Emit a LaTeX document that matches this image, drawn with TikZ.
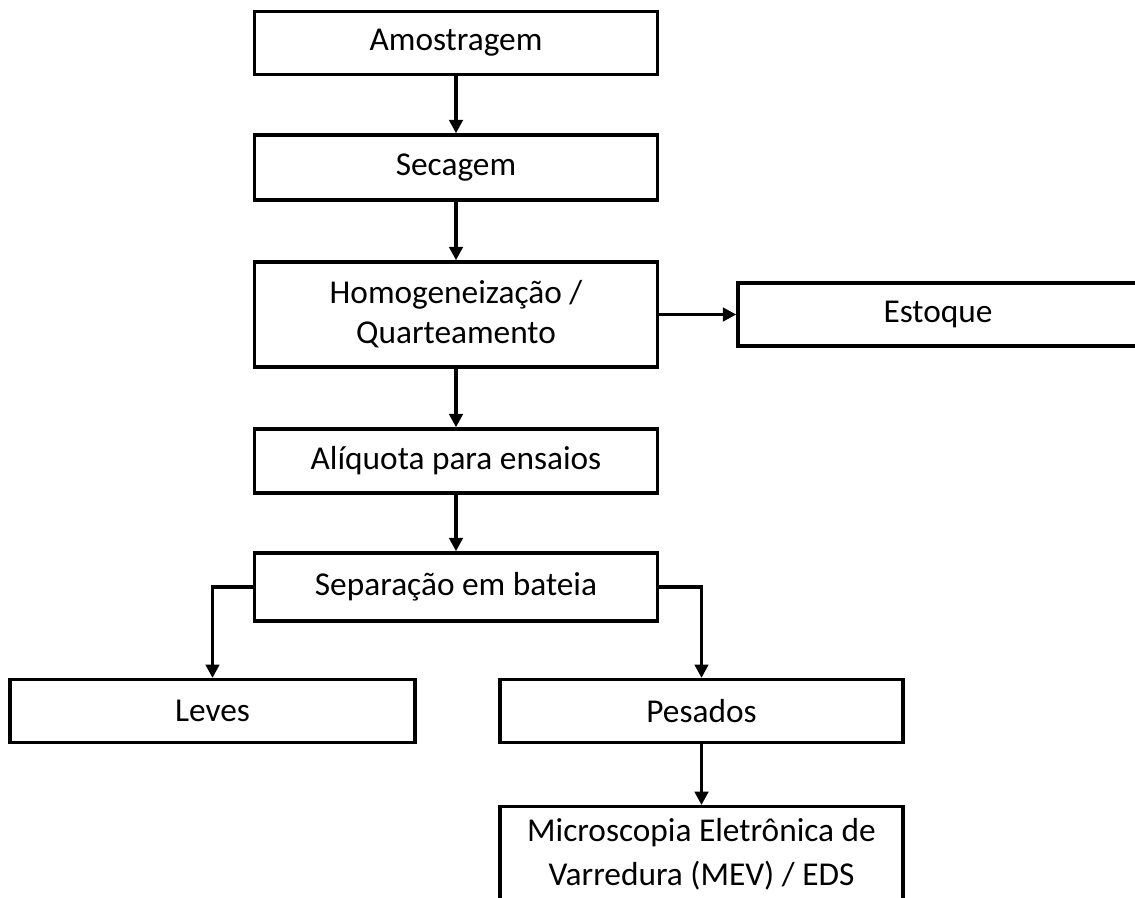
\documentclass[tikz,border=0pt]{standalone}
\usepackage{fontspec}
\setmainfont{Carlito}
\usepackage{xcolor}
\usepackage{tikz}
\usetikzlibrary{arrows, arrows.meta}
\usetikzlibrary{positioning}

\tikzset{
  stepbox/.style={draw=black, line width=2.6pt, fill=white, align=center,
    minimum width=302pt, minimum height=47pt, inner sep=2pt,
    font=\fontsize{25}{30}\selectfont},
  flow/.style={line width=2.6pt, -{Triangle[length=10pt,width=10pt]}}
}

\begin{document}
\begin{tikzpicture}[x=0.75pt, y=-0.75pt]
      \useasboundingbox (0,0) rectangle (1135,897);
      \clip (0,0) rectangle (1135,897);

      \node[stepbox] (amost) at (456,43) {Amostragem};
      \node[stepbox, minimum height=48.75pt] (secagem) at (456,167.5) {Secagem};
      \node[stepbox, minimum height=78.75pt] (homog) at (456,314.5)
        {Homogeneização /\\Quarteamento};
      \node[stepbox, minimum width=300pt] (estoque) at (938,314.5) {Estoque};
      \node[stepbox, minimum height=48pt] (aliquota) at (456,461) {Alíquota para ensaios};
      \node[stepbox, minimum height=51pt] (separacao) at (456,587) {Separação em bateia};

      \node[stepbox, minimum width=304pt] (leves) at (212.5,711) {Leves};
      \node[stepbox] (pesados) at (701.5,711) {Pesados};
      %% the last box runs past the lower edge
      \node[stepbox, anchor=north, minimum height=110pt, inner ysep=9pt,
        font=\fontsize{25}{32.5}\selectfont, text depth=60pt] (mev) at (701.5,805)
        {Microscopia Eletrônica de\\Varredura (MEV) / EDS};

      \draw[flow] (amost) -- (secagem);
      \draw[flow] (secagem) -- (homog);
      \draw[flow] (homog) -- (estoque);
      \draw[flow] (homog) -- (aliquota);
      \draw[flow] (aliquota) -- (separacao);
      \draw[flow] (separacao.west) -| (leves.north);
      \draw[flow] (separacao.east) -| (pesados.north);
      \draw[flow] (pesados) -- (mev);
\end{tikzpicture}
\end{document}
